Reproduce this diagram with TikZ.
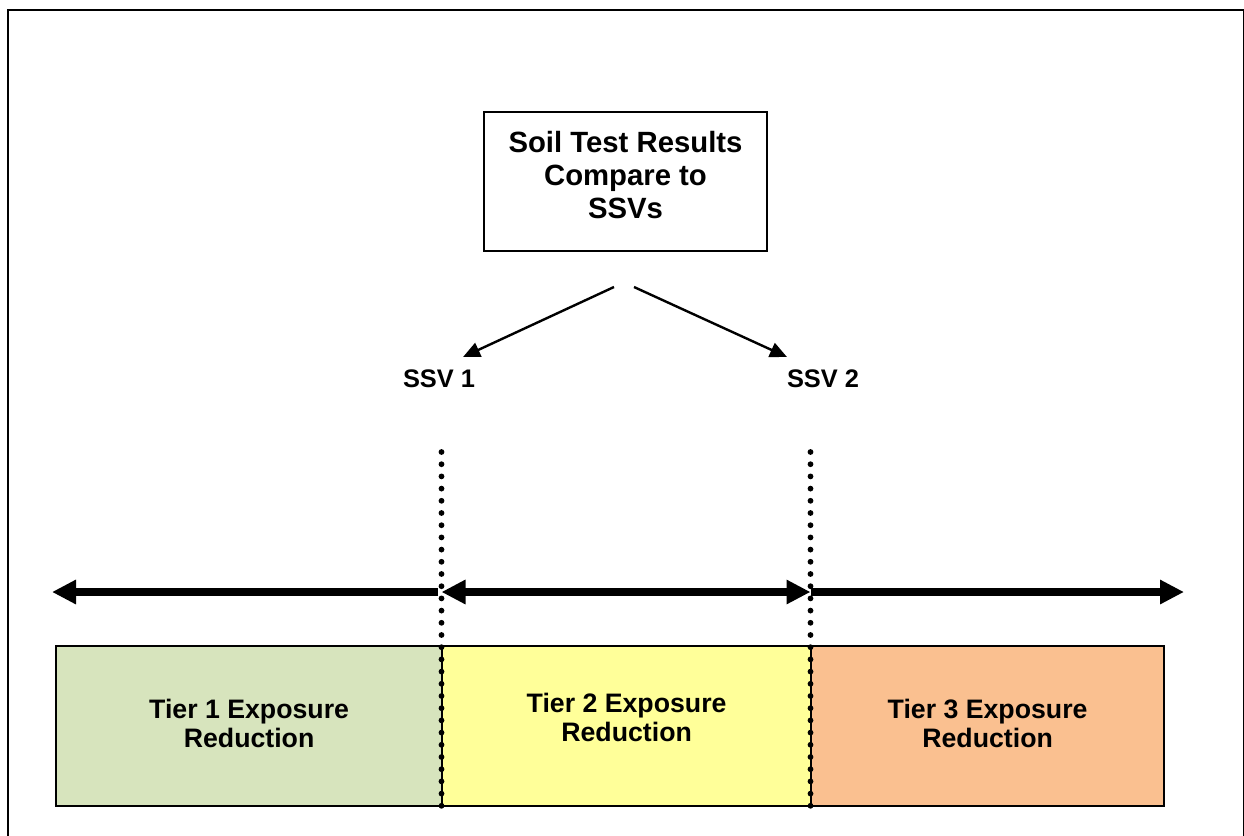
\documentclass[tikz,border=0pt]{standalone}
\usepackage{fontspec}
\setmainfont{Liberation Sans}
\usetikzlibrary{arrows.meta}
\definecolor{tierone}{HTML}{D7E4BD}
\definecolor{tiertwo}{HTML}{FFFF99}
\definecolor{tierthree}{HTML}{FAC090}
\begin{document}
\begin{tikzpicture}[x=1pt,y=-1pt,
  frame/.style={draw=black,line width=2pt},
  resultbox/.style={draw=black,line width=1.6pt,inner sep=0pt,
    minimum width=283pt,minimum height=139pt,align=center,
    font=\fontsize{29.3pt}{33pt}\selectfont\bfseries,text depth=13.8pt},
  tierbox/.style={draw=black,line width=2.2pt,inner sep=0pt,anchor=north west,
    minimum height=160pt,align=center,
    font=\fontsize{26.7pt}{28.5pt}\selectfont\bfseries},
  ssvlabel/.style={inner sep=0pt,font=\fontsize{25.4pt}{28pt}\selectfont\bfseries},
  thinarrow/.style={draw=black,line width=2.4pt,
    -{Triangle[length=17pt,width=15pt]}},
  rangearrow/.style={draw=black,line width=7.5pt,
    -{Triangle[length=24pt,width=23pt]}},
  boundary/.style={draw=black,line width=5.8pt,line cap=round,
    dash pattern=on 0pt off 12.2pt}]

\useasboundingbox (0,0) rectangle (1244,835);

% outer frame
\draw[frame] (8,840) -- (8,10) -- (1243.5,10) -- (1243.5,840);

% decision box
\node[resultbox] (results) at (625.5,181.5) {Soil Test Results\\Compare to\\SSVs};

% screening values
\node[ssvlabel] (ssv1) at (439,378.5) {SSV 1};
\node[ssvlabel] (ssv2) at (823,378.5) {SSV 2};

\coordinate (fromL) at (614,287);
\coordinate (fromR) at (634,287);
\coordinate (toL) at (463,357);
\coordinate (toR) at (787,357);
\draw[thinarrow] (fromL) -- (toL);
\draw[thinarrow] (fromR) -- (toR);

% tier boxes
\node[tierbox,fill=tierone,minimum width=386pt,text depth=6pt] (tier1) at (55,645)
  {Tier 1 Exposure\\Reduction};
\node[tierbox,fill=tiertwo,minimum width=369pt,text depth=18pt] (tier2) at (441,645)
  {Tier 2 Exposure\\Reduction};
\node[tierbox,fill=tierthree,minimum width=353pt,text depth=6pt] (tier3) at (810,645)
  {Tier 3 Exposure\\Reduction};

% range arrows
\coordinate (b1) at (441.5,592);
\coordinate (b2) at (810.5,592);
\coordinate (farL) at (52,592);
\coordinate (farR) at (1184,592);
\draw[rangearrow] ([xshift=-4pt]b1) -- (farL);
\draw[rangearrow,{Triangle[length=24pt,width=23pt]}-{Triangle[length=24pt,width=23pt]}] (b1) -- (b2);
\draw[rangearrow] (b2) -- (farR);

% dotted boundaries at SSV 1 and SSV 2
\coordinate (top1) at (441.5,452);
\coordinate (top2) at (810.5,452);
\draw[boundary] (top1) -- (top1 |- tier1.south);
\draw[boundary] (top2) -- (top2 |- tier2.south);
\end{tikzpicture}
\end{document}
